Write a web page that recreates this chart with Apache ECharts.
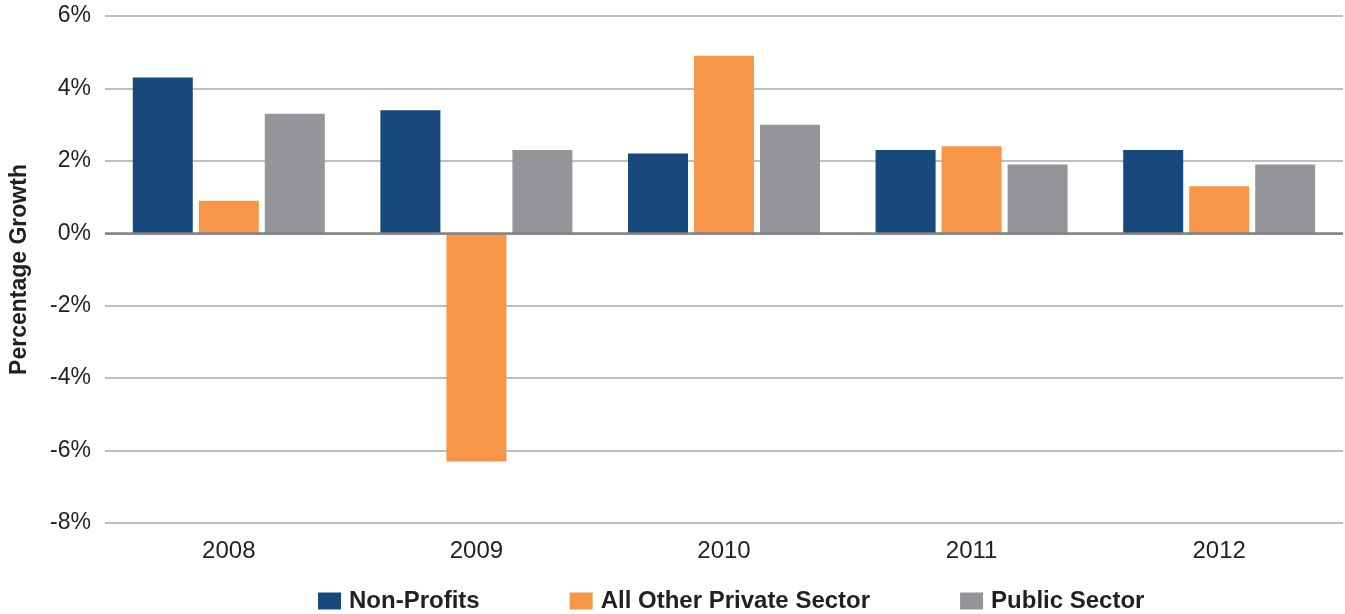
<!DOCTYPE html>
<html><head><meta charset="utf-8">
<script src="https://cdn.jsdelivr.net/npm/echarts@6/dist/echarts.min.js"></script>
<style>html,body{margin:0;padding:0;background:#fff}#c{width:1345px;height:614px}</style>
</head><body><div id="c"></div>
<script>
const categories = ['2008','2009','2010','2011','2012'];
const nonProfits = [4.3, 3.4, 2.2, 2.3, 2.3];
const otherPrivate = [0.9, -6.3, 4.9, 2.4, 1.3];
const publicSector = [3.3, 2.3, 3.0, 1.9, 1.9];
const seriesNames = ['Non-Profits','All Other Private Sector','Public Sector'];
const colors = ['#17497D','#F79646','#939598'];

const chart = echarts.init(document.getElementById('c'));
const font = 'Liberation Sans, Arial, sans-serif';
chart.setOption({
  animation: false,
  color: colors,
  grid: {left: 103, right: 2, top: 16, bottom: 91},
  legend: {
    top: 589, left: 318, padding: 0,
    itemWidth: 23, itemHeight: 17, itemGap: 90,
    icon: 'rect',
    textStyle: {fontFamily: font, fontWeight: 'bold', fontSize: 24, color: '#231f20', padding: [0,0,0,3]},
    data: seriesNames
  },
  xAxis: {
    type: 'category', data: categories,
    axisLine: {show: false}, axisTick: {show: false},
    axisLabel: {fontFamily: font, fontSize: 24, color: '#231f20', margin: 16}
  },
  yAxis: {
    type: 'value', min: -8, max: 6, interval: 2,
    name: 'Percentage Growth', nameLocation: 'middle', nameGap: 74,
    nameTextStyle: {fontFamily: font, fontSize: 23, fontWeight: 'bold', color: '#231f20'},
    axisLabel: {formatter: v => v + '%', fontFamily: font, fontSize: 23, color: '#231f20', margin: 14, padding: [5,0,0,0]},
    axisLine: {show: false}, axisTick: {show: false},
    splitLine: {lineStyle: {color: '#a7a9ac', width: 1.5}}
  },
  series: [
    {name: seriesNames[0], type: 'bar', data: nonProfits, barWidth: 60, barGap: '10%',
     markLine: {silent: true, symbol: 'none', label: {show: false}, lineStyle: {color: '#808285', width: 2.5, type: 'solid'}, data: [{yAxis: 0}]}},
    {name: seriesNames[1], type: 'bar', data: otherPrivate, barWidth: 60, barGap: '10%'},
    {name: seriesNames[2], type: 'bar', data: publicSector, barWidth: 60, barGap: '10%'}
  ]
});
</script></body></html>
